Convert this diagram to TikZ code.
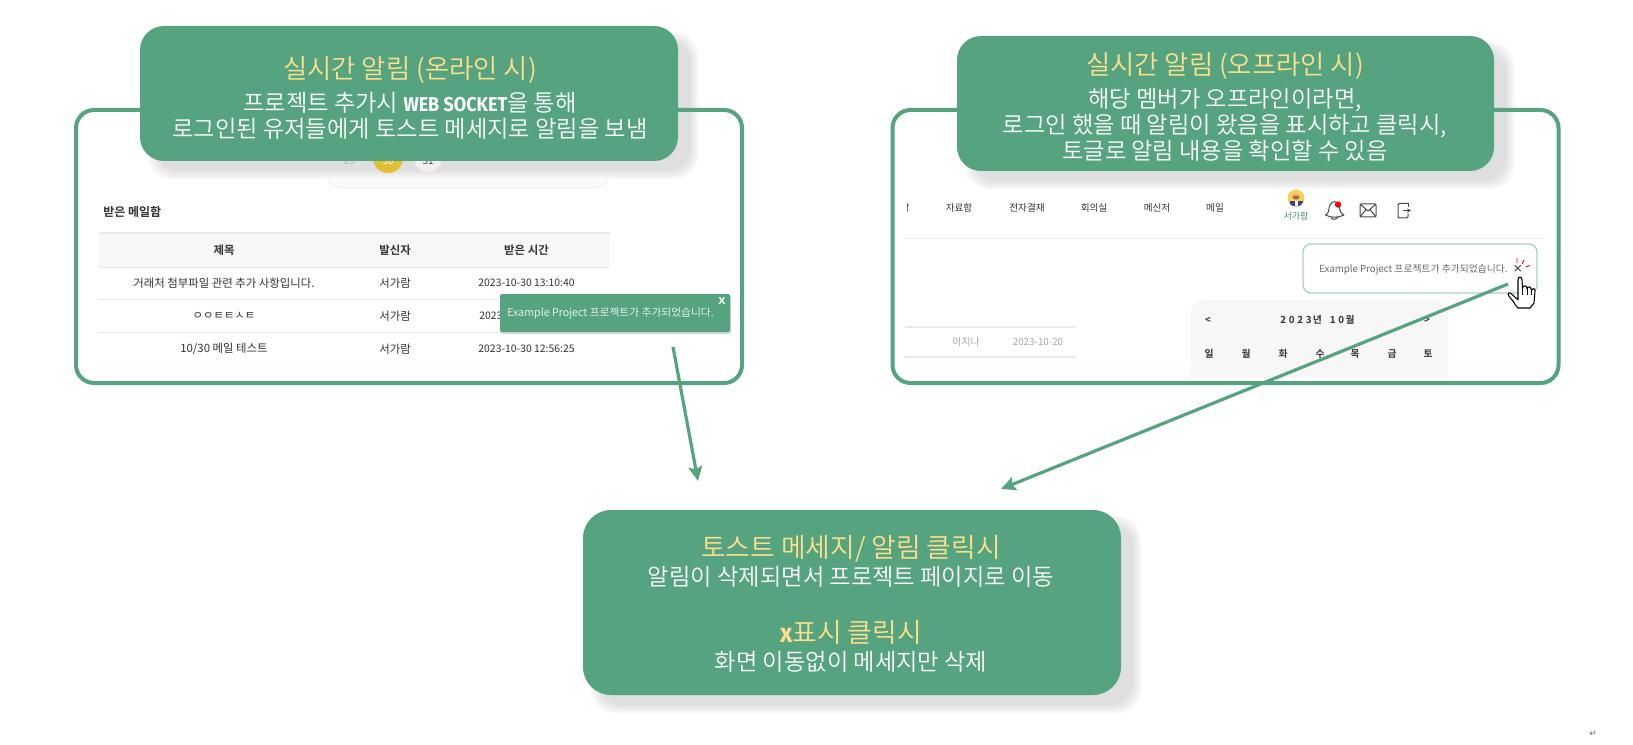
\documentclass[tikz,border=0pt]{standalone}
\usepackage{fontspec}
\usetikzlibrary{arrows.meta}
\setmainfont{Noto Sans CJK KR DemiLight}
\newfontfamily\regf{Noto Sans CJK KR}
\newfontfamily\bldf{Noto Sans CJK KR Bold}
\newfontfamily\webf[FakeStretch=0.9]{Fira Sans Bold}
\newfontfamily\xbf{Liberation Sans Bold}
\newfontfamily\symf{DejaVu Sans}
\definecolor{grn}{HTML}{55A47F}
\definecolor{gold}{HTML}{FFDF8C}
\definecolor{ink}{HTML}{333333}
\definecolor{pale}{HTML}{F7F7F7}
\definecolor{rule}{HTML}{E9E9E9}
\definecolor{today}{HTML}{E2BE35}
\definecolor{avatarbg}{HTML}{F8D257}
\AtBeginDocument{\lineskiplimit=-100pt\relax}
\newcommand\pxf[1]{\fontsize{\fpeval{#1*0.75}}{\fpeval{#1*0.9}}\selectfont}
\newcommand\hd[1]{{\color{gold}\fontsize{19.8}{19.5}\selectfont #1}}
\newcommand\hdc[1]{{\color{gold}\fontsize{20.1}{21}\selectfont #1}}
\newcommand\softshadow[4]{% x0 y0 x1 y1 with offset
  \foreach \g/\t in {8/F7F7F7,6/F0F0F0,4/EAEAEA,2/E4E4E4,0/DFDFDF}{
    \definecolor{shadetint}{HTML}{\t}
    \fill[shadetint,rounded corners=24*0.75pt]
      (#1+16-\g,#2+14-\g) rectangle (#3+16+\g-4,#4+14+\g-4);
  }}
\tikzset{
  x=0.75pt,y=-0.75pt,
  frame/.style={draw=grn,line width=3pt,rounded corners=13.5pt,inner sep=0pt},
  callout/.style={fill=grn,rounded corners=18pt,inner sep=0pt},
  calltext/.style={text=white,align=center,inner sep=0pt,
    font=\fontsize{17.45}{19.5}\selectfont},
  flow/.style={draw=grn,line width=2.4pt,-{Stealth[length=11pt,width=10.5pt,inset=2.2pt]}},
  tbl/.style={text=ink,font=\regf\pxf{11.4},inner sep=0pt},
  tbld/.style={text=ink,font=\regf\pxf{10.4},inner sep=0pt},
  tblb/.style={text=ink,font=\bldf\pxf{11.4},inner sep=0pt},
  nav/.style={text=ink,font=\regf\pxf{9.6},inner sep=0pt},
  day/.style={text=ink,font=\bldf\pxf{9.8},inner sep=0pt},
  pale rule/.style={draw=rule,line width=0.6pt},
  thick rule/.style={draw=rule,line width=1.6pt},
  icon/.style={draw=ink!90,line width=0.75pt,line join=round},
}
\begin{document}
\begin{tikzpicture}
\useasboundingbox (0,0) rectangle (1633,745);
\fill[white] (0,0) rectangle (1633,745);

% ---------- under the shadows
\fill[pale!60!white,draw=rule,line width=.5pt,rounded corners=12pt] (326,130) rectangle (610,188);
\softshadow{140}{26}{678}{161}
\softshadow{957}{36}{1494}{171}
\softshadow{583}{510}{1121}{695}

% ---------- left frame
\node[frame,minimum width=499.5pt,minimum height=204.75pt] (frameA) at (409,246.5) {};
\fill[today] (388,158) circle (15);
\fill[rule!70!white] (428,158) circle (14);
\node[text=gray!60,font=\pxf{10},inner sep=0pt] (d29) at (349,161) {29};
\node[text=white,font=\pxf{10},inner sep=0pt] (d30) at (388,161) {30};
\node[text=ink,font=\pxf{10},inner sep=0pt] (d31) at (428,161) {31};
% mail table
\node[tblb,font=\bldf\pxf{12},anchor=west] (inbox) at (103,212) {받은 메일함};
\fill[pale] (99,233) rectangle (610,267);
\draw[thick rule] (99,233) -- (610,233);
\draw[pale rule] (99,267) -- (610,267) (99,299.5) -- (610,299.5) (99,332) -- (610,332);
\node[tblb] (h1) at (224,250) {제목};
\node[tblb] (h2) at (395,250) {발신자};
\node[tblb] (h3) at (526.5,250) {받은 시간};
\node[tbl] (r1a) at (224,283) {거래처 첨부파일 관련 추가 사항입니다.};
\node[tbl] (r1b) at (395,283) {서가람};
\node[tbld] (r1c) at (526.5,283) {2023-10-30 13:10:40};
\node[tbl] (r2a) at (224,316) {ㅇㅇㅌㅌㅅㅌ};
\node[tbl] (r2b) at (395,316) {서가람};
\node[tbld,anchor=west] (r2c) at (479,316) {2023};
\node[tbl] (r3a) at (224,349) {10/30 메일 테스트};
\node[tbl] (r3b) at (395,349) {서가람};
\node[tbld] (r3c) at (526.5,349) {2023-10-30 12:56:25};
% toast
\fill[gray!30,rounded corners=1.5pt] (500.5,295.5) rectangle (731,334);
\node[fill=grn,minimum width=172.5pt,minimum height=28.5pt,inner sep=0pt,rounded corners=1.5pt] (toast) at (615,313) {};
\node[text=white!92!grn,font=\pxf{10.75},inner sep=0pt,anchor=west] (toastt) at (507,313) {Example Project 프로젝트가 추가되었습니다.};
\node[text=white,font=\xbf\pxf{13},inner sep=0pt] (toastx) at (722,301) {x};

% ---------- right frame
\node[frame,minimum width=499.5pt,minimum height=204.75pt] (frameB) at (1225.5,246.5) {};
\draw[pale rule] (905,238) -- (1545,238);
\begin{scope}
\clip (907,200) rectangle (913,220);
\node[nav] (navcut) at (905,208) {람};
\end{scope}
\node[nav] (n1) at (959,208) {자료함};
\node[nav] (n2) at (1027,208) {전자결재};
\node[nav] (n3) at (1094,208) {회의실};
\node[nav] (n4) at (1157,208) {메신저};
\node[nav] (n5) at (1215,208) {메일};
% avatar
\fill[avatarbg] (1296,198) circle (8.5);
\begin{scope}
\clip (1296,198) circle (8.5);
\fill[blue!45!black!75] (1289.5,201.5) rectangle (1302.5,208);
\fill[white] (1294.5,201.5) rectangle (1297.5,208);
\end{scope}
\fill[orange!55!white!90!brown] (1296,196.5) circle (3.6);
\fill[brown!85!black] (1292.4,196) arc (180:0:3.6) -- cycle;
\node[text=grn!85!black,font=\regf\pxf{9},inner sep=0pt] (avname) at (1296,216) {서가람};
% bell
\draw[icon] (1325.5,215) .. controls (1330,213) and (1328,208) .. (1330,205)
  .. controls (1332,200) and (1338,201) .. (1339,206)
  .. controls (1340,210) and (1340,213) .. (1344,215) .. controls (1338,218) and (1331,218) .. (1325.5,215) -- cycle;
\draw[icon] (1331,217.5) .. controls (1332,220) and (1336,220) .. (1338,217);
\fill[red] (1338,204.5) circle (3.2);
% mail
\draw[icon,rounded corners=1pt] (1360,204) rectangle (1376,217);
\draw[icon] (1360,204) -- (1368,211) -- (1376,204) (1360,217) -- (1366,209.5) (1376,217) -- (1370,209.5);
% door
\draw[icon,rounded corners=1pt] (1409,203.5) -- (1398,203.5) -- (1398,218) -- (1408,218) -- (1408,213.5);
\draw[icon] (1408,203.5) -- (1408,207);
\draw[icon,-{Stealth[length=3pt,width=3pt]}] (1403,210.5) -- (1411,210.5);
% notification
\draw[draw=grn!50!white,line width=1pt,fill=white,rounded corners=6pt] (1303,244) rectangle (1537,293);
\node[text=ink!80,font=\pxf{9.8},inner sep=0pt,anchor=west] (notet) at (1319,270) {Example Project 프로젝트가 추가되었습니다.};
\node[text=ink,font=\symf\pxf{12},inner sep=0pt] (notex) at (1518,269) {×};
\draw[red,line width=.65pt] (1517,258) -- (1517,263) (1524,260) -- (1522,264) (1530,265.5) -- (1525.5,267);
% calendar
\fill[pale,rounded corners=12pt] (1190,300) rectangle (1448,378);
\fill[pale] (1190,360) rectangle (1448,378);
\node[day] (cprev) at (1208,320) {<};
\node[day] (ctitle) at (1317.5,320) {2\hspace{2pt}0\hspace{2pt}2\hspace{2pt}3\hspace{1pt}년\hspace{6pt}1\hspace{2pt}0\hspace{1pt}월};
\node[day] (cnext) at (1427,320) {>};
\node[day] (w1) at (1209,354) {일};
\node[day] (w2) at (1246,354) {월};
\node[day] (w3) at (1283,354) {화};
\node[day] (w4) at (1320,354) {수};
\node[day] (w5) at (1355,354) {목};
\node[day] (w6) at (1392,354) {금};
\node[day] (w7) at (1428,354) {토};
% left list
\draw[thick rule] (905,327) -- (1076,327) (905,357) -- (1076,357);
\node[text=gray!70,font=\regf\pxf{9.8},inner sep=0pt] (lname) at (966,342) {이지나};
\node[text=gray!70,font=\regf\pxf{9.8},inner sep=0pt] (ldate) at (1038,342) {2023-10-20};
% cursor
\draw[fill=white,draw=black,line width=.8pt,line join=round]
  (1518,300) .. controls (1514,296) and (1510,292) .. (1508.5,293)
  .. controls (1507,294) and (1510,298) .. (1513,301)
  -- (1516,306) -- (1518,308) -- (1530,308) -- (1534,303)
  -- (1535,291) .. controls (1535,288) and (1532,288) .. (1531.5,290)
  .. controls (1531,286) and (1527,286) .. (1527,289)
  .. controls (1527,285) and (1523,285) .. (1522.5,288)
  -- (1522,280) .. controls (1522,276) and (1518,276) .. (1518,280) -- cycle;
\draw[black,line width=.5pt] (1522.5,288) -- (1522.5,295) (1527,289) -- (1527,295) (1531.5,290) -- (1531.5,295);

% ---------- callouts
\node[callout,minimum width=403.5pt,minimum height=101.25pt] (callA) at (409,93.5) {};
\node[calltext] (callAt) at (410,98) {\hd{실시간 알림 (온라인 시)}\\[5.2pt]
  프로젝트 추가시 {\webf\pxf{20}WEB SOCKET}을 통해\\
  로그인된 유저들에게 토스트 메세지로 알림을 보냄};
\node[callout,minimum width=402.75pt,minimum height=101.25pt] (callB) at (1225.5,103.5) {};
\node[calltext] (callBt) at (1225,107) {\hd{실시간 알림 (오프라인 시)}\\[5.2pt]
  해당 멤버가 오프라인이라면,\\
  로그인 했을 때 알림이 왔음을 표시하고 클릭시,\\
  토글로 알림 내용을 확인할 수 있음};
\node[callout,rounded corners=21pt,minimum width=403.5pt,minimum height=138.75pt] (callC) at (852,602.5) {};
\node[calltext,font=\fontsize{17.45}{21}\selectfont] (callCt) at (851,604) {\hdc{토스트 메세지/ 알림 클릭시}\\
  알림이 삭제되면서 프로젝트 페이지로 이동\\[22pt]
  \hdc{{\webf x}표시 클릭시}\\
  화면 이동없이 메세지만 삭제};

% ---------- connectors
\coordinate (a1) at (673,347);
\coordinate (a2) at (698,481);
\coordinate (b1) at (1508,284);
\coordinate (b2) at (1001,489);
\draw[flow] (a1) -- (a2);
\draw[flow] (b1) -- (b2);

\node[text=gray!80!black,font=\symf\pxf{9},inner sep=0pt] (retmark) at (1593,734) {↵};
\end{tikzpicture}
\end{document}
